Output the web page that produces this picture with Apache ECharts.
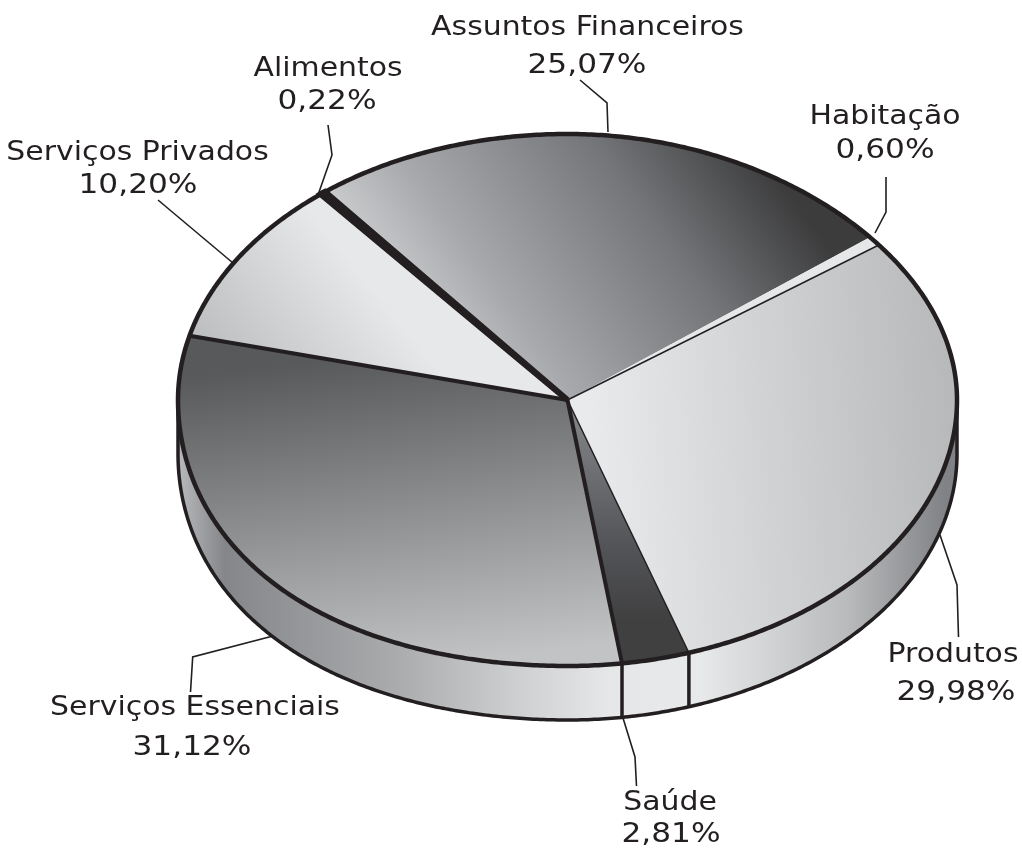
<!DOCTYPE html>
<html>
<head>
<meta charset="utf-8">
<style>
html, body { margin: 0; padding: 0; background: #fff; }
#chart { width: 1022px; height: 848px; }
</style>
<script src="https://cdn.jsdelivr.net/npm/echarts@6/dist/echarts.min.js"></script>
</head>
<body>
<div id="chart"></div>
<script>
// clockwise from the Alimentos / Assuntos boundary
const categories = ['Assuntos Financeiros', 'Habitação', 'Produtos', 'Saúde', 'Serviços Essenciais', 'Serviços Privados', 'Alimentos'];
const values = [25.07, 0.6, 29.98, 2.81, 31.12, 10.2, 0.22];

const cx = 567.5, cy = 400, rx = 389.5, ry = 266, depth = 54, startDeg = 128.5;

function grad(x, y, x2, y2, stops) {
    return {
        type: 'linear', global: true, x, y, x2, y2,
        colorStops: stops.map((s) => ({ offset: s[0], color: s[1] })),
    };
}

const black = '#231f20';
const topFills = [
    grad(400, 291, 701, 72, [[0, '#c9cacc'], [0.21, '#a8a9ac'], [0.66, '#737578'], [1, '#3c3c3d']]),
    '#e6e7e8',
    grad(590, 430, 950, 410, [[0, '#e9eaeb'], [1, '#b8b9bb']]),
    grad(0, 420, 0, 620, [[0, '#808285'], [0.6, '#55565a'], [1, '#404041']]),
    grad(400, 350, 440, 665, [[0, '#58595b'], [1, '#c2c3c5']]),
    grad(200, 340, 330, 235, [[0, '#bdbec0'], [1, '#e7e8e9']]),
    black,
];
const sideFill = grad(178, 0, 957, 0, [
    [0, '#b8b9bb'], [0.06, '#858689'], [0.285, '#aaacae'], [0.44, '#cfd0d2'], [0.555, '#e6e7e8'],
    [0.67, '#e8e9ea'], [0.86, '#b9babc'], [0.985, '#808285'], [1, '#808285'],
]);
// stroke width of the radial line at the end of each slice
const boundaryWidths = [0, 1.5, 1.5, 4, 4, 0, 0];

const leaders = [
    [[608, 132], [607, 103], [580, 80]],
    [[875, 233], [886, 212], [886, 177]],
    [[940, 535], [957, 585], [958.5, 637]],
    [[622.7, 717], [635, 757], [636.5, 786]],
    [[273, 636], [192.7, 657], [190.5, 692]],
    [[233, 263], [158, 200]],
    [[318, 195], [332, 155], [328, 125]],
];
const labelPos = [
    [587.5, 28.5], [885, 117.5], [953, 655.5], [670, 803.5], [195, 708.5], [137.5, 153.5], [328, 69.5],
];
const percentPos = [
    [587, 66], [885, 151], [956, 693], [671, 835], [192, 748], [138, 186], [327, 102],
];

// the drawn disc is not a true ellipse: lower left bulges, upper right is pulled in
function point(deg, dy) {
    const a = deg * Math.PI / 180;
    const s = Math.sin(a), c = Math.cos(a);
    const w = Math.sin(2 * a) ** 2;
    let k = 1;
    if (c < 0 && s < 0) k = 1 + 0.022 * w;
    if (c > 0 && s > 0) k = 1 - 0.012 * w;
    return [cx + k * rx * c, cy - k * ry * s + (dy || 0)];
}

function arc(from, to, dy) {
    const pts = [];
    const n = Math.max(2, Math.ceil(Math.abs(to - from) * 2));
    for (let i = 0; i <= n; i++) {
        pts.push(point(from + (to - from) * i / n, dy));
    }
    return pts;
}

// slice angles, going clockwise so they decrease
const total = values.reduce((a, b) => a + b, 0);
const slices = [];
let acc = startDeg;
values.forEach((v) => {
    const next = acc - v / total * 360;
    slices.push([acc, next]);
    acc = next;
});

function renderSide(params) {
    const s = slices[params.dataIndex];
    // the wall only shows between 0 and -180 degrees
    const a = Math.min(s[0], 0), b = Math.max(s[1], -180);
    if (a <= b) return null;
    return {
        type: 'polygon', shape: { points: arc(a, b, 0).concat(arc(b, a, depth)) },
        style: { fill: sideFill, stroke: null },
    };
}

function renderTop(params) {
    const i = params.dataIndex;
    const s = slices[i];
    const isThin = topFills[i] === black;
    return {
        type: 'polygon', shape: { points: [[cx, cy]].concat(arc(s[0], s[1], 0)) },
        style: { fill: topFills[i], stroke: isThin ? black : null, lineWidth: 6 },
    };
}

function renderEdges(params) {
    const i = params.dataIndex;
    const s = slices[i];
    const children = [];
    if (boundaryWidths[i]) {
        children.push({
            type: 'polyline', shape: { points: [[cx, cy], point(s[1], 0)] },
            style: { stroke: black, lineWidth: boundaryWidths[i], fill: null },
        });
        if (s[1] > -180 && s[1] < 0) {
            children.push({
                type: 'polyline', shape: { points: [point(s[1], 0), point(s[1], depth)] },
                style: { stroke: black, lineWidth: 3.5, fill: null },
            });
        }
    }
    return { type: 'group', children };
}

function renderRim() {
    return {
        type: 'group',
        children: [
            {
                type: 'polyline',
                shape: { points: [point(180, 0)].concat(arc(-180, 0, depth), [point(0, 0)]) },
                style: { stroke: black, lineWidth: 3.5, fill: null },
            },
            {
                type: 'polygon', shape: { points: arc(0, 360, 0) },
                style: { stroke: black, lineWidth: 4.5, fill: null },
            },
        ],
    };
}

const textStyle = { fontFamily: 'DejaVu Sans', fontSize: 26, fill: black, textAlign: 'center', textVerticalAlign: 'middle' };
const labelElements = [];
categories.forEach((name, i) => {
    labelElements.push({
        type: 'text', x: labelPos[i][0], y: labelPos[i][1], scaleX: 1.15,
        style: { ...textStyle, text: name },
    });
    labelElements.push({
        type: 'text', x: percentPos[i][0], y: percentPos[i][1], scaleX: 1.2,
        style: { ...textStyle, text: values[i].toFixed(2).replace('.', ',') + '%' },
    });
    labelElements.push({
        type: 'polyline', shape: { points: leaders[i] },
        style: { stroke: black, lineWidth: 1.6, fill: null },
    });
});

const chart = echarts.init(document.getElementById('chart'), null, { renderer: 'canvas' });
const base = { type: 'custom', coordinateSystem: 'none', silent: true, animation: false };
chart.setOption({
    animation: false,
    backgroundColor: '#fff',
    graphic: { elements: labelElements },
    series: [
        { ...base, name: 'side', renderItem: renderSide, data: values, z: 1 },
        { ...base, name: 'top', renderItem: renderTop, data: values, z: 2 },
        { ...base, name: 'edges', renderItem: renderEdges, data: values, z: 3 },
        { ...base, name: 'rim', renderItem: renderRim, data: [1], z: 4 },
    ],
});
</script>
</body>
</html>
